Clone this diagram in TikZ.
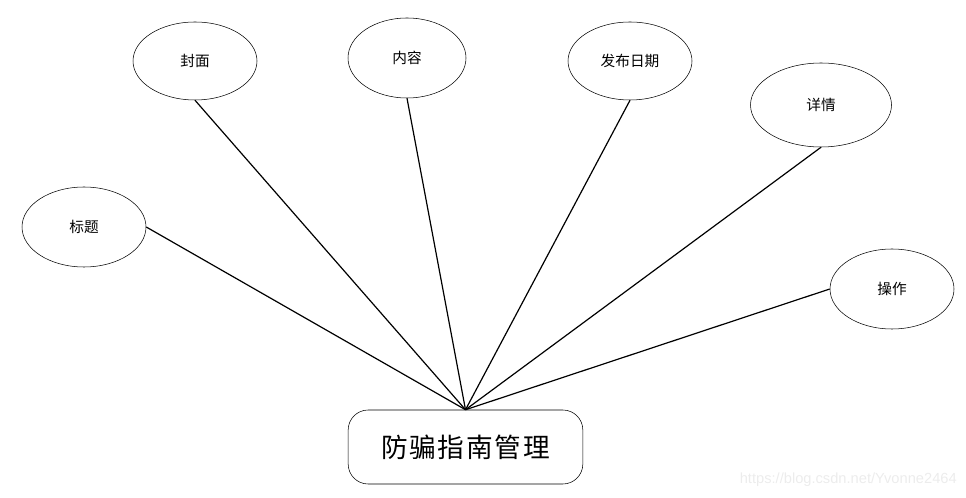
\documentclass[tikz,border=0pt]{standalone}
\usepackage{fontspec}
\usepackage{tikz}
\usetikzlibrary{positioning,shapes.geometric}
\newfontfamily\cjk{Noto Sans CJK SC}
\setsansfont{Liberation Sans}
\definecolor{MarkGray}{RGB}{236,236,236}
\newcommand{\gapch}{\hspace{1.3pt}}

\begin{document}
\begin{tikzpicture}[x=0.75pt,y=-0.75pt,
	attr/.style={ellipse,draw,thin,inner sep=0pt,minimum width=93pt,minimum height=60pt,font=\cjk\fontsize{11}{13}\selectfont},
	entity/.style={rectangle,draw,thin,rounded corners=15pt,minimum width=176pt,minimum height=55.5pt,font=\cjk\fontsize{20}{24}\selectfont},
	link/.style={line width=0.9pt}]
			\useasboundingbox (0,0) rectangle (966,498);
			\node [entity] (guide) at (465.5,447) {防\gapch 骗\gapch 指\gapch 南\gapch 管\gapch 理};
			\node [attr] (title) at (84,227) {标题};
			\node [attr,minimum height=58.5pt] (cover) at (195,61) {封面};
			\node [attr,minimum width=88.5pt] (content) at (407,58) {内容};
			\node [attr,minimum height=58.5pt] (date) at (630,61) {发布日期};
			\node [attr,minimum width=105.75pt,minimum height=63pt] (detail) at (821,105) {详情};
			\node [attr] (action) at (892,289) {操作};
			\draw [link] (title.east) -- (guide.north);
			\draw [link] (cover.south) -- (guide.north);
			\draw [link] (content.south) -- (guide.north);
			\draw [link] (date.south) -- (guide.north);
			\draw [link] (detail.south) -- (guide.north);
			\draw [link] (action.west) -- (guide.north);
			\node [anchor=east,text=MarkGray,font=\sffamily\fontsize{11}{13}\selectfont,inner sep=0pt] (mark) at (957,480) {https://blog.csdn.net/Yvonne2464};
\end{tikzpicture}
\end{document}
